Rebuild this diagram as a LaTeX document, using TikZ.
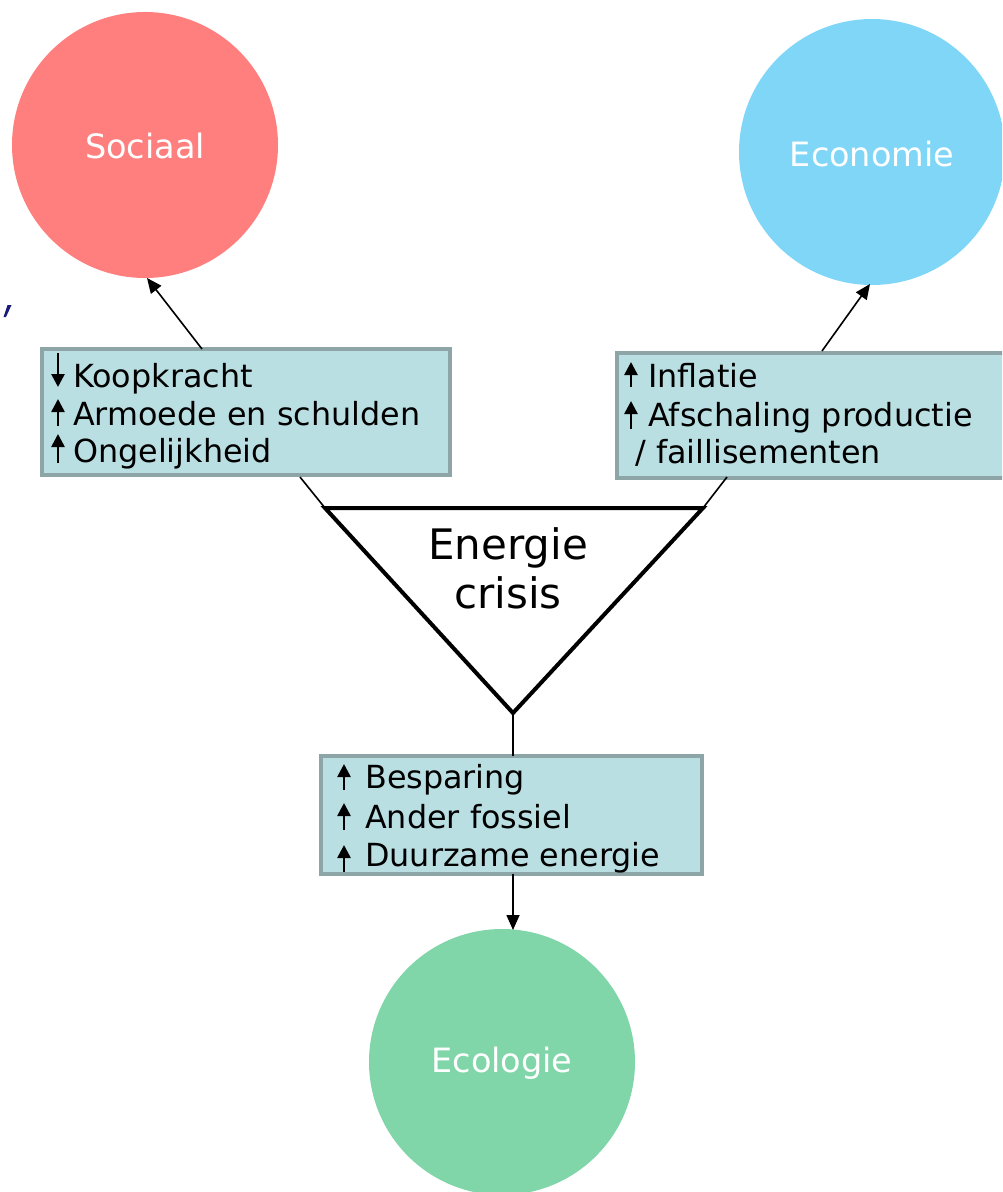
\documentclass[tikz,border=0pt]{standalone}
\usepackage{fontspec}
\setmainfont{DejaVu Sans}
\usetikzlibrary{arrows.meta}
\definecolor{soc}{HTML}{FF7F7F}
\definecolor{eco}{HTML}{80D6F7}
\definecolor{ecl}{HTML}{80D6A8}
\definecolor{boxfill}{HTML}{BADFE3}
\definecolor{boxline}{HTML}{8EA5A8}
\definecolor{navy}{HTML}{1A1A7A}
\tikzset{
  circ/.style={circle, inner sep=0pt, minimum size=266pt, draw=none},
  circtxt/.style={text=white, inner sep=0pt, font=\fontsize{33.5}{40}\selectfont},
  infobox/.style={rectangle, fill=boxfill, draw=boxline, line width=4pt, inner sep=0pt},
  itemtxt/.style={anchor=base west, inner sep=0pt, font=\fontsize{31.8}{37}\selectfont},
  conn/.style={line width=1.6pt, -{Triangle[length=15pt,width=13pt]}},
  plainline/.style={line width=1.6pt},
  itemarr/.style={line width=2.6pt, -{Triangle[length=13pt,width=13pt]}},
}
\begin{document}
\begin{tikzpicture}[x=1pt,y=-1pt]
\useasboundingbox (0,0) rectangle (1002,1192);
\clip (0,0) rectangle (1002,1192);
% circles
\node[circ, fill=soc] (soc) at (145,145) {};
\node[circtxt] (soctxt) at (145,146) {Sociaal};
\node[circ, fill=eco] (eco) at (872,152) {};
\node[circtxt] (ecotxt) at (872,154) {Economie};
\node[circ, fill=ecl] (ecl) at (502,1062) {};
\node[circtxt] (ecltxt) at (502,1063) {Ecologie};
% boxes
\node[infobox, minimum width=408pt, minimum height=126pt] (b1) at (246,412) {};
\node[infobox, minimum width=400pt, minimum height=125pt, anchor=north west] (b2) at (615,351) {};
\node[infobox, minimum width=381pt, minimum height=118pt] (b3) at (511.5,815) {};
% triangle
\coordinate (tl) at (325,508);
\coordinate (tr) at (703,508);
\coordinate (tb) at (513,713);
\draw[line width=4pt, line join=miter] (tl) -- (tr) -- (tb) -- cycle;
\node[font=\fontsize{42}{49}\selectfont, align=center] (crisis) at (508,568) {Energie\\crisis};
% connector end points
\coordinate (b1top) at (202,349);
\coordinate (b1bot) at (300,477);
\coordinate (socend) at (147,278);
\coordinate (b2top) at (822,351);
\coordinate (b2bot) at (727,477);
\coordinate (ecoend) at (870,284);
\coordinate (b3top) at (513,756);
\coordinate (b3bot) at (513,874);
\coordinate (eclend) at (513,930);
\draw[conn] (b1top) -- (socend);
\draw[plainline] (tl) -- (b1bot);
\draw[conn] (b2top) -- (ecoend);
\draw[plainline] (tr) -- (b2bot);
\draw[plainline] (tb) -- (b3top);
\draw[conn] (b3bot) -- (eclend);
% box 1 text
\node[itemtxt] (k1) at (73,387) {Koopkracht};
\node[itemtxt] (k2) at (73,425) {Armoede en schulden};
\node[itemtxt] (k3) at (73,462) {Ongelijkheid};
\draw[itemarr] (58,353) -- (58,387);
\draw[itemarr] (58,426) -- (58,399);
\draw[itemarr] (58,463) -- (58,434);
% box 2 text
\node[itemtxt] (e1) at (648,387) {Inflatie};
\node[itemtxt] (e2) at (648,426) {Afschaling productie};
\node[itemtxt] (e3) at (635,463) {/ faillisementen};
\draw[itemarr] (631,387) -- (631,362);
\draw[itemarr] (631,429) -- (631,401);
% box 3 text
\node[itemtxt] (d1) at (365,788) {Besparing};
\node[itemtxt] (d2) at (365,828) {Ander fossiel};
\node[itemtxt] (d3) at (365,866) {Duurzame energie};
\draw[itemarr] (344,790) -- (344,764);
\draw[itemarr] (344,830) -- (344,803);
\draw[itemarr] (344,872) -- (344,845);
% stray mark
\fill[navy] (7.5,305) -- (11.5,305) -- (6,317) -- (3.5,317) -- cycle;
\end{tikzpicture}
\end{document}
